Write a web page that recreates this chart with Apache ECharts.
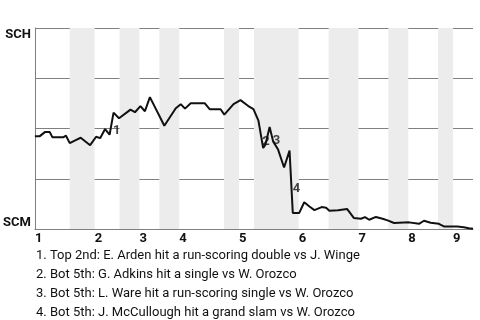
<!DOCTYPE html>
<html><head><meta charset="utf-8">
<script src="https://cdn.jsdelivr.net/npm/echarts@6/dist/echarts.min.js"></script>
<style>html,body{margin:0;padding:0;background:#fff}#c{width:480px;height:320px}</style>
</head><body><div id="c"></div>
<script>
// Teams: bottom of axis (0 %) and top of axis (100 %)
const teamBottom = 'SCM';
const teamTop = 'SCH';
// Innings (x in game-progress units)
const inningLabels = ['1','2','3','4','5','6','7','8','9'];
const inningStarts = [0, 24, 42, 58, 82, 106, 130, 150, 168];
const gameEnd = 176;
const bottomHalfStart = [14, 34, 50, 76, 88, 118, 142, 162];
const bottomHalfEnd   = [24, 42, 58, 82, 106, 130, 150, 168];
// Win probability for SCH (%) along the game
const playX = [0, 2, 4, 6, 7, 11.5, 12.5, 14, 16.4, 18.4, 19.2, 22.2, 24.6, 26.2, 28.2, 30, 31.6, 33.8, 38.4, 40.2,
  42.4, 44.2, 46.2, 52, 56.6, 58.6, 60.3, 62.6, 68.2, 70.2, 74.6, 76.1, 79.8, 82.6, 85.6, 87.8, 89.8, 91.7, 92.6, 94.3,
  95.7, 97.7, 100.1, 102.3, 103.6, 106.2, 108.2, 110.3, 112.3, 115.2, 117, 118.3, 121.8, 125.4, 128.1, 131, 132.6, 134.3, 137, 139.7,
  141.7, 144.3, 150.3, 154.3, 156.3, 159, 162.3, 164.3, 169.7, 172.3, 174.3, 176];
const winProb = [46.2, 46.2, 48.2, 48.2, 45.7, 45.7, 46.4, 42.7, 44.2, 45.4, 44.9, 41.7, 45.9, 45.2, 49.7, 46.9, 57.9, 55.1, 59.4, 58.1,
  61.1, 58.6, 65.6, 51.4, 60.1, 62.1, 59.9, 62.6, 62.6, 59.6, 59.6, 56.9, 62.1, 64.1, 61.3, 59.6, 53.9, 40.3, 41.9, 50.7,
  43.6, 39.5, 30.6, 39, 8, 8, 13.3, 11.2, 9.4, 10.9, 10.6, 9.1, 9.3, 10, 5.5, 5.1, 5.9, 4.6, 6, 5.1,
  4.3, 3, 3.3, 2.6, 4.1, 3.1, 2.6, 1.3, 1.3, 0.9, 0.4, 0.1];
// Key events: index of the play after the event
const eventIndex = [16, 37, 40, 44];
const eventNotes = [
  '1. Top 2nd: E. Arden hit a run-scoring double vs J. Winge',
  '2. Bot 5th: G. Adkins hit a single vs W. Orozco',
  '3. Bot 5th: L. Ware hit a run-scoring single vs W. Orozco',
  '4. Bot 5th: J. McCullough hit a grand slam vs W. Orozco'
];

const lineData = playX.map((x, i) => [x, winProb[i]]);
const eventData = eventIndex.map((k, i) => ({
  name: String(i + 1),
  value: [(playX[k - 1] + playX[k]) / 2, (winProb[k - 1] + winProb[k]) / 2]
}));
const bands = bottomHalfStart.map((s, i) => [{ xAxis: s }, { xAxis: bottomHalfEnd[i] }]);

const FONT = 'Roboto';
const INK = '#111';
const GRID = '#808080';
const chart = echarts.init(document.getElementById('c'), null, { renderer: 'canvas' });
chart.setOption({
  animation: false,
  backgroundColor: '#fff',
  textStyle: { fontFamily: FONT },
  grid: { left: 32, right: 7, top: 28, bottom: 91, containLabel: false },
  title: {
    text: eventNotes.join('\n'),
    left: 31, top: 241,
    textStyle: { fontFamily: FONT, fontSize: 13, fontWeight: 'normal', color: INK, lineHeight: 19 }
  },
  xAxis: {
    type: 'value', min: 0, max: gameEnd, interval: 2,
    axisLine: { show: true, lineStyle: { color: GRID, width: 1 } },
    axisTick: { show: false },
    splitLine: { show: false },
    axisLabel: {
      margin: 3, align: 'left', fontFamily: FONT, fontSize: 13, fontWeight: 'bold', color: INK,
      showMinLabel: true, showMaxLabel: true,
      formatter: v => { const i = inningStarts.indexOf(v); return i >= 0 ? inningLabels[i] : ''; }
    }
  },
  yAxis: {
    type: 'value', min: 0, max: 100, interval: 25,
    axisLine: { show: true, lineStyle: { color: GRID, width: 1 } },
    axisTick: { show: false },
    splitLine: { show: true, lineStyle: { color: GRID, width: 1 } },
    axisLabel: {
      margin: 4, fontFamily: FONT, fontSize: 13, fontWeight: 'bold', color: INK,
      verticalAlignMaxLabel: 'top', verticalAlignMinLabel: 'bottom',
      formatter: v => v === 100 ? teamTop : (v === 0 ? teamBottom : '')
    }
  },
  series: [
    {
      type: 'line', data: lineData, symbol: 'none', z: 3,
      lineStyle: { color: INK, width: 2 },
      markArea: { silent: true, itemStyle: { color: '#ececec' }, data: bands }
    },
    {
      type: 'scatter', data: eventData, symbolSize: 1, z: 4,
      itemStyle: { color: 'transparent' },
      label: {
        show: true, formatter: p => p.name, position: [2, 1], align: 'left', verticalAlign: 'top',
        fontFamily: FONT, fontSize: 13, fontWeight: 'bold', color: INK
      }
    }
  ]
});
</script></body></html>
